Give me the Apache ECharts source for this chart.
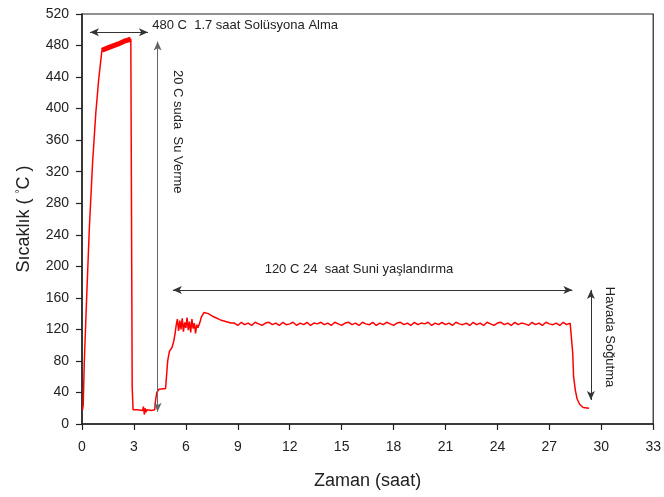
<!DOCTYPE html>
<html>
<head>
<meta charset="utf-8">
<script src="https://cdn.jsdelivr.net/npm/echarts@6/dist/echarts.min.js"></script>
<style>html,body{margin:0;padding:0;background:#fff}#c{width:664px;height:497px}</style>
</head>
<body>
<div id="c"></div>
<script>
// Heating, quench and first part of ageing (time in hours, temperature in °C)
const times = [0.03,0.07,0.13,0.27,0.42,0.61,0.8,0.96,1.15,1.6,2.1,2.5,2.82,2.86,2.9,2.95,
  3.2,3.5,3.55,3.6,3.65,3.7,3.75,4.0,4.2,4.25,4.32,4.45,4.83,4.88,4.95,5.05,5.2,5.3,5.38,
  5.44,5.51,5.58,5.65,5.72,5.79,5.86,5.93,6.0,6.07,6.14,6.21,6.28,6.35,6.42,6.49,6.56,6.63,
  6.7,6.8,6.9,7.05,7.3,7.6,8.0,8.3,8.6];
const temps = [18,24,77,161,246,331,395,436,474,478,482,486,488,487,47,18,
  18,17,22,12,20,15,18,17,18,30,40,44,45,60,80,92,97,105,115,
  125,133,118,131,120,134,117,129,122,135,119,130,116,133,121,128,115,126,
  122,128,136,141.5,140,136,132,130,128];
// Ageing plateau, sampled every flatStep hours from flatStart
const flatStart = 8.8, flatStep = 0.2;
const flatTemps = [
  128,125,129,126,128,125,129,127,125,128,
  129,126,128,125,129,126,127,129,125,128,
  126,129,125,128,127,129,126,128,125,129,
  127,125,128,129,126,128,125,129,127,126,
  129,125,128,126,129,127,125,128,129,126,
  128,125,129,126,128,127,129,125,128,126,
  129,126,128,125,129,127,126,128,125,129,
  126,128,125,129,127,125,128,129,126,128,
  125,129,126,128,127,125,129,126,128,125,
  129,127,126,128,125,129,126,128];
// Air cooling
const tailTimes = [28.3,28.35,28.4,28.5,28.6,28.75,28.95,29.3];
const tailTemps = [127,90,60,43,32,25,21,20];
// Solution-treatment band (thick oscillating trace)
const bandTimes = [1.15,1.6,2.1,2.5,2.82];
const bandTemps = [474,478,482,486,488];
// Tick labels
const xTicks = [0,3,6,9,12,15,18,21,24,27,30,33];
const yTicks = [0,40,80,120,160,200,240,280,320,360,400,440,480,520];

const data = times.map((t,i)=>[t,temps[i]])
  .concat(flatTemps.map((v,i)=>[+(flatStart+i*flatStep).toFixed(2), v]))
  .concat(tailTimes.map((t,i)=>[t,tailTemps[i]]));
const band = bandTimes.map((t,i)=>[t,bandTemps[i]]);

// Annotation arrows (data coordinates)
const arrows = [
  {a:[0.46,497],b:[3.81,497],c:'#333'},
  {a:[4.37,485],b:[4.37,15.6],c:'#666'},
  {a:[5.25,170],b:[28.33,170],c:'#333'},
  {a:[29.4,170],b:[29.4,30.5],c:'#333'}
];
const notes = [
  {text:'480 C  1.7 saat Solüsyona Alma', at:[4.06,506], align:'left', rot:0},
  {text:'20 C suda  Su Verme', at:[5.52,449], align:'left', rot:-Math.PI/2},
  {text:'120 C 24  saat Suni yaşlandırma', at:[16.0,195.5], align:'center', rot:0},
  {text:'Havada Soğutma', at:[30.46,174], align:'left', rot:-Math.PI/2}
];

const FONT = 'Liberation Sans, Arial, sans-serif';
const chart = echarts.init(document.getElementById('c'), null, {renderer:'canvas'});
chart.setOption({
  animation:false,
  grid:{left:82,right:8,top:14,bottom:73,show:true,borderColor:'#222',borderWidth:1.2,backgroundColor:'transparent'},
  xAxis:{type:'value',min:0,max:33,interval:3,
    axisLine:{onZero:false,lineStyle:{color:'#222',width:1.5}},
    axisTick:{show:true,length:6,lineStyle:{color:'#222',width:1.2}},
    axisLabel:{color:'#222',fontSize:14,fontFamily:FONT,margin:16,
      formatter:v=>xTicks.includes(v)?String(v):''},
    splitLine:{show:false},
    name:'Zaman (saat)',nameLocation:'middle',nameGap:48,
    nameTextStyle:{fontSize:18,color:'#222',fontFamily:FONT}
  },
  yAxis:{type:'value',min:0,max:520,interval:40,
    axisLine:{show:true,lineStyle:{color:'#222',width:1.5}},
    axisTick:{show:true,length:6,lineStyle:{color:'#222',width:1.2}},
    axisLabel:{color:'#222',fontSize:14,fontFamily:FONT,margin:13,
      formatter:v=>yTicks.includes(v)?String(v):''},
    splitLine:{show:false},
    name:'Sıcaklık ( {d|°}C )',nameLocation:'middle',nameGap:49,
    nameTextStyle:{fontSize:18,color:'#222',fontFamily:FONT,
      rich:{d:{fontSize:10,color:'#222',fontFamily:FONT,verticalAlign:'top',padding:[0,0,8,0]}}}
  },
  series:[
    {type:'line',data:data,showSymbol:false,symbol:'none',lineStyle:{color:'#ff0000',width:1.5},
      markLine:{silent:true,symbol:['arrow','arrow'],symbolSize:[6,9],
        lineStyle:{width:1,type:'solid'},label:{show:false},
        data:arrows.map(r=>[{coord:r.a,lineStyle:{color:r.c},itemStyle:{color:r.c}},{coord:r.b}])}},
    {type:'line',data:band,showSymbol:false,symbol:'none',lineStyle:{color:'#ff0000',width:5}}
  ]
});
const g = notes.map(n=>{
  const p = chart.convertToPixel({gridIndex:0}, n.at);
  return {type:'text',x:p[0],y:p[1],rotation:n.rot,
    style:{text:n.text,fontSize:13,fontFamily:FONT,fill:'#222',align:n.align,verticalAlign:'middle'}};
});
chart.setOption({graphic:g});
</script>
</body>
</html>
